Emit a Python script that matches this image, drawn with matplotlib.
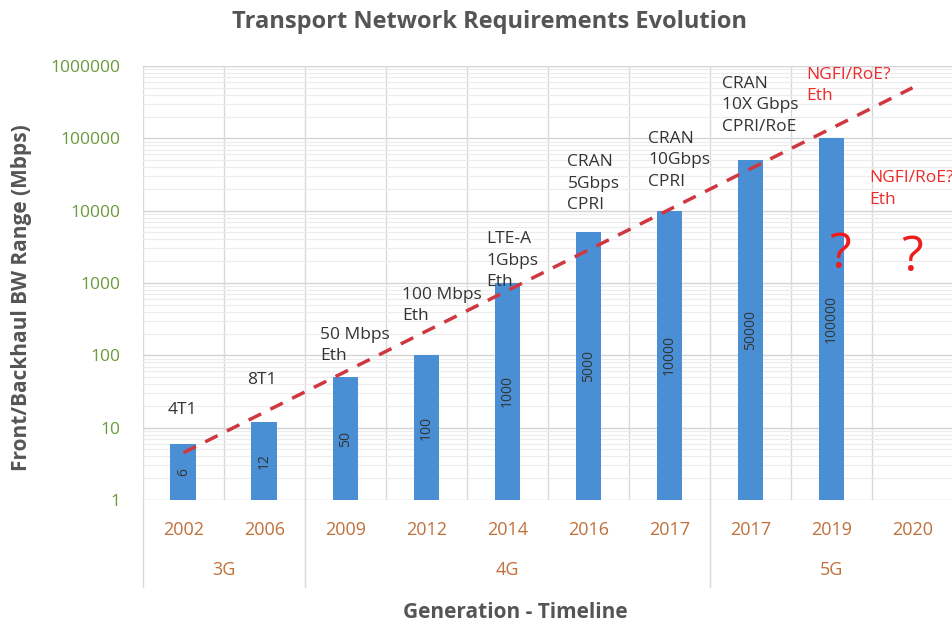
import matplotlib
matplotlib.use("Agg")
import matplotlib.pyplot as plt
import numpy as np
from matplotlib.ticker import LogLocator, FixedLocator, NullFormatter

years = ["2002", "2006", "2009", "2012", "2014", "2016", "2017", "2017", "2019", "2020"]
bandwidth = [6, 12, 50, 100, 1000, 5000, 10000, 50000, 100000, None]
bar_labels = ["6", "12", "50", "100", "1000", "5000", "10000", "50000", "100000", ""]
tech_labels = ["4T1", "8T1", "50 Mbps\nEth", "100 Mbps\nEth", "LTE-A\n1Gbps\nEth",
               "CRAN\n5Gbps\nCPRI", "CRAN\n10Gbps\nCPRI", "CRAN\n10X Gbps\nCPRI/RoE",
               "NGFI/RoE?\nEth", "NGFI/RoE?\nEth"]
tech_red = [False] * 8 + [True, True]
generations = ["3G", "4G", "5G"]
gen_spans = [(0, 1), (2, 6), (7, 9)]
trend_start, trend_end = 4.5, 500000
yticks = [1, 10, 100, 1000, 10000, 100000, 1000000]

# layout: anchor (bottom-left) of each technology label, in (x offset, y data)
label_dx = [-0.20, -0.22, -0.31, -0.30, -0.26, -0.26, -0.26, -0.35, -0.31, -0.54]
label_y = [13.5, 35, 76, 270, 800, 9300, 19400, 112000, 297000, 11000]

plt.rcParams['font.family'] = ['Open Sans', 'DejaVu Sans']

fig = plt.figure(figsize=(9.53, 6.26), dpi=100)
ax = fig.add_axes([0.150, 0.2013, 0.850, 0.6933])

x = np.arange(len(years))
vals = [v if v is not None else np.nan for v in bandwidth]
ax.bar(x, vals, width=0.32, color="#4a8fd4", zorder=3)
ax.set_yscale("log")
ax.set_ylim(1, 1e6)
ax.set_xlim(-0.5, len(years) - 0.5)

ax.yaxis.set_major_locator(FixedLocator(yticks))
ax.yaxis.set_minor_locator(LogLocator(base=10, subs=np.arange(2, 10)))
ax.yaxis.set_minor_formatter(NullFormatter())
ax.set_yticklabels([str(t) for t in yticks], color="#6a9a3a", fontsize=12.5)
ax.grid(which="major", axis="y", color="#d4d4d4", lw=1.0, zorder=0)
ax.grid(which="minor", axis="y", color="#ececec", lw=0.8, zorder=0)
for b in np.arange(-0.5, len(years), 1.0):
    ax.axvline(b, color="#d9d9d9", lw=1.0, zorder=0)

ax.set_xticks(x)
ax.set_xticklabels(years, color="#c0703a", fontsize=13)
ax.tick_params(axis="x", length=0, pad=15)
ax.tick_params(axis="y", which="both", length=0, pad=16)
for s in ax.spines.values():
    s.set_visible(False)

# bar value labels
for i, (v, lab) in enumerate(zip(bandwidth, bar_labels)):
    if v is None:
        continue
    ax.text(i, np.sqrt(v), lab, rotation=90, ha="center", va="center",
            fontsize=10, color="#333333", zorder=4)

# trend line
ax.plot([x[0], x[-1]], [trend_start, trend_end], ls=(0, (4, 3)), color="#d0383f",
        lw=2.5, zorder=5)

# technology labels
for i, (lab, red) in enumerate(zip(tech_labels, tech_red)):
    ax.text(i + label_dx[i], label_y[i], lab, ha="left", va="bottom",
            fontsize=12.5, color="#ee2a2a" if red else "#333333",
            linespacing=1.45, zorder=6)

ax.text(8.1, 2450, "?", fontsize=36, color="#ee1c1c", ha="center", va="center", zorder=6)
ax.text(9.0, 2200, "?", fontsize=36, color="#ee1c1c", ha="center", va="center", zorder=6)

# generation group labels
for g, (a, b) in zip(generations, gen_spans):
    ax.text((a + b) / 2, -0.162, g, transform=ax.get_xaxis_transform(),
            ha="center", va="center", fontsize=13, color="#c0703a")
for b in [-0.5, 1.5, 6.5]:
    ax.plot([b, b], [0, -0.2], transform=ax.get_xaxis_transform(),
            color="#d9d9d9", lw=1.0, clip_on=False)

fig.text(0.514, 0.965, "Transport Network Requirements Evolution", ha="center",
         va="center", fontsize=17, fontweight="bold", color="#555555")
fig.text(0.541, 0.021, "Generation - Timeline", ha="center", va="center",
         fontsize=15, fontweight="bold", color="#555555")
fig.text(0.023, 0.524, "Front/Backhaul BW Range (Mbps)", rotation=90, ha="center",
         va="center", fontsize=15, fontweight="bold", color="#555555")

fig.savefig("out.png", dpi=100)
